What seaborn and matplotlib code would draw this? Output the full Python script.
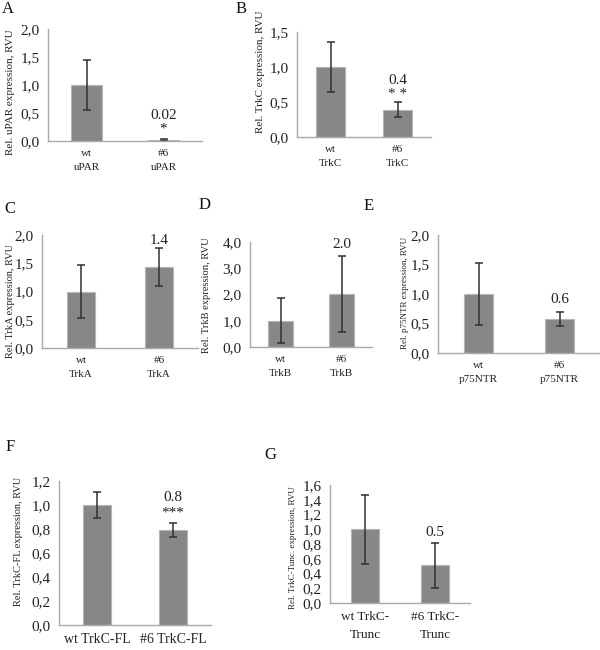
import pandas as pd
import matplotlib
matplotlib.use("Agg")
import matplotlib.pyplot as plt
import seaborn as sns
from matplotlib.ticker import MultipleLocator, FuncFormatter

sns.set_style("white")
plt.rcParams['font.family'] = ['Liberation Serif', 'DejaVu Serif']

# panel data: category labels, means, errors, annotations
letters = ["A", "B", "C", "D", "E", "F", "G"]
cats = [
    ["wt\nuPAR", "#6\nuPAR"],
    ["wt\nTrkC", "#6\nTrkC"],
    ["wt\nTrkA", "#6\nTrkA"],
    ["wt\nTrkB", "#6\nTrkB"],
    ["wt\np75NTR", "#6\np75NTR"],
    ["wt TrkC-FL", "#6 TrkC-FL"],
    ["wt TrkC-\nTrunc", "#6 TrkC-\nTrunc"],
]
means = [
    [1.0, 0.02],
    [1.0, 0.39],
    [1.0, 1.43],
    [1.0, 2.02],
    [1.0, 0.57],
    [1.0, 0.79],
    [1.0, 0.51],
]
errs = [
    [0.44, 0.02],
    [0.36, 0.11],
    [0.47, 0.34],
    [0.85, 1.43],
    [0.53, 0.12],
    [0.11, 0.06],
    [0.47, 0.31],
]
ylabels = [
    "Rel. uPAR expression, RVU",
    "Rel. TrkC expression, RVU",
    "Rel. TrkA expression, RVU",
    "Rel. TrkB expression, RVU",
    "Rel. p75NTR expression, RVU",
    "Rel. TrkC-FL expression, RVU",
    "Rel. TrkC-Tunc. expression, RVU",
]
ymax = [2.0, 1.5, 2.0, 4.0, 2.0, 1.2, 1.6]
ystep = [0.5, 0.5, 0.5, 1.0, 0.5, 0.2, 0.2]
# (text, y value) above the #6 bar
notes = [
    [("0.02", 0.46), ("*", 0.22)],
    [("0.4", 0.81), ("* *", 0.61)],
    [("1.4", 1.91)],
    [("2.0", 3.89)],
    [("0.6", 0.90)],
    [("0.8", 1.06), ("***", 0.93)],
    [("0.5", 0.96)],
]

# layout in pixels: left, right, top, bottom of axes; letter position; font sizes
boxes = [
    (48, 202, 29, 141), (297, 431, 32, 137), (42, 198, 235, 348),
    (250, 372, 242, 347), (438, 600, 235, 353), (59, 211, 481, 625),
    (330, 470, 485, 603),
]
letter_pos = [(2, 9), (236, 9), (4, 209), (199, 205), (364, 206), (6, 447), (264, 455)]
ylab_size = [8, 8, 7.5, 7.6, 6.5, 7.5, 6.5]
ylab_xy = [(-0.214, 0.44), (-0.24, 0.62), (-0.173, 0.42), (-0.32, 0.49),
           (-0.18, 0.51), (-0.237, 0.58), (-0.236, 0.47)]
xlab_size = [8, 8, 8, 8, 8, 10, 9.5]
bar_w = [0.39, 0.42, 0.36, 0.4, 0.36, 0.38, 0.4]

W, H = 600, 650
fig = plt.figure(figsize=(6, 6.5), dpi=100)

for i in range(7):
    l, r, t, b = boxes[i]
    ax = fig.add_axes([l / W, 1 - b / H, (r - l) / W, (b - t) / H])
    df = pd.DataFrame({"group": cats[i], "value": means[i]})
    sns.barplot(data=df, x="group", y="value", color="#878787", width=bar_w[i],
                errorbar=None, saturation=1, edgecolor="#b5b5b5", linewidth=0.8, ax=ax)
    ax.errorbar(range(2), means[i], yerr=errs[i], fmt="none", ecolor="#303030",
                elinewidth=1.1, capsize=3, capthick=1.1)
    for txt, yv in notes[i]:
        ax.text(1, yv, txt, ha="center", va="center", fontsize=11, color="#222222")

    ax.set_xlim(-0.5, 1.5)
    ax.set_ylim(0, ymax[i])
    ax.yaxis.set_major_locator(MultipleLocator(ystep[i]))
    ax.yaxis.set_major_formatter(FuncFormatter(lambda v, p: f"{v:.1f}".replace(".", ",")))
    ax.set_xticks([-0.5, 0.5, 1.5])
    ax.set_xticklabels([])
    ax.set_xticks([0, 1], minor=True)
    ax.set_xticklabels(cats[i], minor=True, fontsize=xlab_size[i], color="#222222",
                       linespacing=1.6)
    ax.tick_params(axis="x", which="major", length=4, color="#aaaaaa", direction="out")
    ax.tick_params(axis="x", which="minor", length=0, pad=6)
    ax.tick_params(axis="y", length=4, color="#aaaaaa", direction="out",
                   labelsize=11, labelcolor="#222222", pad=2)
    ax.set_xlabel("")
    ax.set_ylabel(ylabels[i], fontsize=ylab_size[i], color="#222222")
    ax.yaxis.set_label_coords(*ylab_xy[i])
    sns.despine(ax=ax)
    for s in ["left", "bottom"]:
        ax.spines[s].set_color("#aaaaaa")
        ax.spines[s].set_linewidth(1.0)
    ax.set_facecolor("none")

    fig.text(letter_pos[i][0] / W, 1 - letter_pos[i][1] / H, letters[i],
             fontsize=12, va="center", ha="left", color="#111111")

fig.savefig("out.png", dpi=100, facecolor="white")
